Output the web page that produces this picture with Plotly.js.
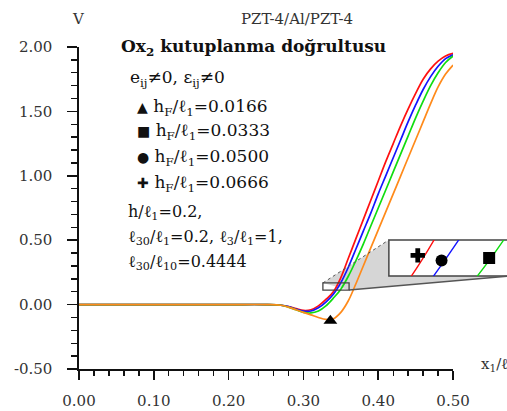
<!DOCTYPE html>
<html>
<head>
<meta charset="utf-8">
<script src="https://cdn.plot.ly/plotly-3.0.1.min.js"></script>
<style>html,body{margin:0;padding:0;background:#fff;}#chart{width:507px;height:411px;}</style>
</head>
<body>
<div id="chart"></div>
<script>
// ---- data ----
const xs = [0, 0.05, 0.10, 0.15, 0.20, 0.25, 0.27, 0.28, 0.29, 0.30, 0.31, 0.32, 0.33, 0.34, 0.35,
            0.36, 0.37, 0.38, 0.39, 0.40, 0.41, 0.42, 0.43, 0.44, 0.45, 0.46, 0.47, 0.48, 0.49, 0.50];
const v0666 = [0, 0, 0, 0, 0, 0, -0.005, -0.015, -0.03, -0.045, -0.04, -0.01, 0.04, 0.10, 0.21,
               0.36, 0.51, 0.66, 0.81, 0.96, 1.11, 1.25, 1.39, 1.52, 1.64, 1.75, 1.83, 1.89, 1.93, 1.95];
const v0500 = [0, 0, 0, 0, 0, 0, -0.005, -0.015, -0.035, -0.05, -0.05, -0.025, 0.02, 0.08, 0.17,
               0.29, 0.43, 0.57, 0.71, 0.86, 1.00, 1.14, 1.28, 1.42, 1.55, 1.67, 1.77, 1.85, 1.91, 1.94];
const v0333 = [0, 0, 0, 0, 0, 0, -0.005, -0.02, -0.04, -0.06, -0.065, -0.05, -0.01, 0.05, 0.12,
               0.22, 0.34, 0.47, 0.61, 0.75, 0.89, 1.03, 1.17, 1.31, 1.45, 1.58, 1.70, 1.80, 1.88, 1.93];
const v0166 = [0, 0, 0, 0, 0, 0, -0.005, -0.02, -0.04, -0.06, -0.08, -0.10, -0.115, -0.11, -0.06,
               0.03, 0.16, 0.30, 0.44, 0.58, 0.72, 0.86, 1.00, 1.14, 1.28, 1.42, 1.56, 1.69, 1.79, 1.86];
const seriesNames = ['hF/l1=0.0666', 'hF/l1=0.0500', 'hF/l1=0.0333', 'hF/l1=0.0166'];
const seriesColors = ['#ff1010', '#1414ff', '#10dd10', '#ff8a1a'];

const triX = [0.336], triY = [-0.125];
const insetMarkX = [0.3431, 0.3459, 0.3515];
const insetMarkY = [0.137, 0.133, 0.135];
const insetSymbols = ['cross', 'circle', 'square'];

const xTickVals = [0, 0.1, 0.2, 0.3, 0.4, 0.5];
const xTickText = ['0.00', '0.10', '0.20', '0.30', '0.40', '0.50'];
const yTickVals = [-0.5, 0, 0.5, 1.0, 1.5, 2.0];
const yTickText = ['-0.50', '0.00', '0.50', '1.00', '1.50', '2.00'];

const zoomBoxX = [0.326, 0.361];
const zoomBoxY = [0.113, 0.168];
const insetRangeX = [0.3397, 0.3536];
const insetRangeY = [0.121, 0.149];

// ---- layout geometry ----
const xDom = [0, 0.874], yDom = [0, 1];
const xRange = [0, 0.5], yRange = [-0.5, 2.0];
const x2Dom = [0.724, 1], y2Dom = [0.289, 0.401];
const toPX = d => xDom[0] + (d - xRange[0]) / (xRange[1] - xRange[0]) * (xDom[1] - xDom[0]);
const toPY = d => yDom[0] + (d - yRange[0]) / (yRange[1] - yRange[0]) * (yDom[1] - yDom[0]);

const allSeries = [v0666, v0500, v0333, v0166];
const traces = [];
allSeries.forEach((ys, i) => {
  traces.push({x: xs, y: ys, type: 'scatter', mode: 'lines', name: seriesNames[i],
    line: {color: seriesColors[i], width: 1.7, shape: 'spline', smoothing: 1},
    xaxis: 'x', yaxis: 'y', showlegend: false, hoverinfo: 'skip'});
});
allSeries.slice(0, 3).forEach((ys, i) => {
  traces.push({x: xs, y: ys, type: 'scatter', mode: 'lines',
    line: {color: seriesColors[i], width: 1.4, shape: 'spline', smoothing: 1},
    xaxis: 'x2', yaxis: 'y2', showlegend: false, hoverinfo: 'skip'});
});
traces.push({x: triX, y: triY, type: 'scatter', mode: 'markers',
  marker: {symbol: 'triangle-up', size: 12, color: '#000'}, xaxis: 'x', yaxis: 'y', showlegend: false});
traces.push({x: insetMarkX, y: insetMarkY, type: 'scatter', mode: 'markers',
  marker: {symbol: insetSymbols, size: 12, color: '#000'}, xaxis: 'x2', yaxis: 'y2', showlegend: false});

const serif = 'DejaVu Serif, Liberation Serif, serif';
const tickFont = {family: serif, size: 15, color: '#333'};
const txtFont = {family: serif, size: 17, color: '#111'};
const txtFontS = {family: serif, size: 16, color: '#111'};

// pixel -> paper helpers for annotation placement (plot area: x 79..507, y 47..369)
const PL = 79, PW = 428, PT = 47, PH = 322;
const ppx = p => (p - PL) / PW;
const ppy = p => (PT + PH - p) / PH;

const mk = (s) => '<span style="font-size:14px">' + s + '</span>';
const lines = [
  {t: '<b>Ox<sub>2</sub> kutuplanma doğrultusu</b>', x: 119, y: 48, f: txtFont},
  {t: 'e<sub>ij</sub>≠0, ε<sub>ij</sub>≠0', x: 128, y: 79, f: txtFont},
  {t: mk('▲') + ' h<sub>F</sub>/ℓ<sub>1</sub>=0.0166', x: 135, y: 107, f: txtFont},
  {t: mk('■') + ' h<sub>F</sub>/ℓ<sub>1</sub>=0.0333', x: 135, y: 131, f: txtFont},
  {t: mk('●') + ' h<sub>F</sub>/ℓ<sub>1</sub>=0.0500', x: 135, y: 157, f: txtFont},
  {t: mk('✚') + ' h<sub>F</sub>/ℓ<sub>1</sub>=0.0666', x: 135, y: 183, f: txtFont},
  {t: 'h/ℓ<sub>1</sub>=0.2,', x: 126, y: 212, f: txtFontS},
  {t: 'ℓ<sub>30</sub>/ℓ<sub>1</sub>=0.2, ℓ<sub>3</sub>/ℓ<sub>1</sub>=1,', x: 126, y: 237, f: txtFontS},
  {t: 'ℓ<sub>30</sub>/ℓ<sub>10</sub>=0.4444', x: 126, y: 262, f: txtFontS}
];
const annotations = lines.map(l => ({text: l.t, xref: 'paper', yref: 'paper', x: ppx(l.x), y: ppy(l.y),
  xanchor: 'left', yanchor: 'middle', showarrow: false, font: l.f}));
annotations.push({text: 'V', xref: 'paper', yref: 'paper', x: ppx(78), y: ppy(19), xanchor: 'center',
  yanchor: 'middle', showarrow: false, font: tickFont});
annotations.push({text: 'x<sub>1</sub>/ℓ', xref: 'paper', yref: 'paper', x: ppx(479), y: ppy(364), xanchor: 'left',
  yanchor: 'middle', showarrow: false, font: tickFont});

// zoom connector geometry (paper)
const zx0 = toPX(zoomBoxX[0]), zx1 = toPX(zoomBoxX[1]);
const zy0 = toPY(zoomBoxY[0]), zy1 = toPY(zoomBoxY[1]);
const ix0 = x2Dom[0], ix1 = 1.01, iy0 = y2Dom[0], iy1 = y2Dom[1];

const shapes = [
  {type: 'path', xref: 'paper', yref: 'paper', layer: 'below',
   path: `M ${zx0} ${zy1} L ${ix0} ${iy1} L ${ix0} ${iy0} L ${ix1} ${iy0} L ${zx1} ${zy0} Z`,
   fillcolor: 'rgba(200,200,200,0.75)', line: {width: 0}},
  {type: 'line', xref: 'paper', yref: 'paper', x0: zx0, y0: zy1, x1: ix0, y1: iy1,
   line: {color: '#555', width: 1, dash: 'dot'}},
  {type: 'line', xref: 'paper', yref: 'paper', x0: zx1, y0: zy0, x1: ix1, y1: iy0,
   line: {color: '#555', width: 1.6}},
  {type: 'rect', xref: 'paper', yref: 'paper', layer: 'below', x0: ix0, y0: iy0, x1: 1.05, y1: iy1,
   fillcolor: '#ffffff', line: {color: '#444', width: 1.5}},
  {type: 'rect', xref: 'x', yref: 'y', x0: zoomBoxX[0], x1: zoomBoxX[1], y0: zoomBoxY[0], y1: zoomBoxY[1],
   line: {color: '#444', width: 1.3}, fillcolor: 'rgba(0,0,0,0)'}
];

const layout = {
  width: 507, height: 411,
  margin: {l: PL, r: 0, t: PT, b: 411 - PT - PH, pad: 0},
  paper_bgcolor: '#fff', plot_bgcolor: 'rgba(0,0,0,0)',
  title: {text: 'PZT-4/Al/PZT-4', x: 297 / 507, xref: 'container', xanchor: 'center',
          y: 1 - 19 / 411, yanchor: 'middle', font: {family: serif, size: 15, color: '#333'}},
  xaxis: {domain: xDom, range: xRange, anchor: 'y', showgrid: false, zeroline: false,
          showline: true, linecolor: '#111', linewidth: 1.6,
          tickmode: 'array', tickvals: xTickVals, ticktext: xTickText,
          ticks: 'outside', ticklen: 9, tickwidth: 1.6, tickcolor: '#111', ticklabelstandoff: 8,
          minor: {tickmode: 'linear', tick0: 0, dtick: 0.02, ticks: 'outside', ticklen: 5, tickwidth: 1.4, tickcolor: '#111'},
          tickfont: tickFont, automargin: false, fixedrange: true},
  yaxis: {domain: yDom, range: yRange, anchor: 'x', showgrid: false, zeroline: false,
          showline: true, linecolor: '#111', linewidth: 1.6,
          tickmode: 'array', tickvals: yTickVals, ticktext: yTickText,
          ticks: 'outside', ticklen: 10, tickwidth: 1.6, tickcolor: '#111', ticklabelstandoff: 12,
          minor: {tickmode: 'linear', tick0: -0.5, dtick: 0.1, ticks: 'outside', ticklen: 6, tickwidth: 1.4, tickcolor: '#111'},
          tickfont: tickFont, automargin: false, fixedrange: true},
  xaxis2: {domain: x2Dom, range: insetRangeX, anchor: 'y2', visible: false, fixedrange: true},
  yaxis2: {domain: y2Dom, range: insetRangeY, anchor: 'x2', visible: false, fixedrange: true},
  shapes: shapes,
  annotations: annotations,
  showlegend: false
};

Plotly.newPlot('chart', traces, layout, {staticPlot: true, displayModeBar: false});
</script>
</body>
</html>
